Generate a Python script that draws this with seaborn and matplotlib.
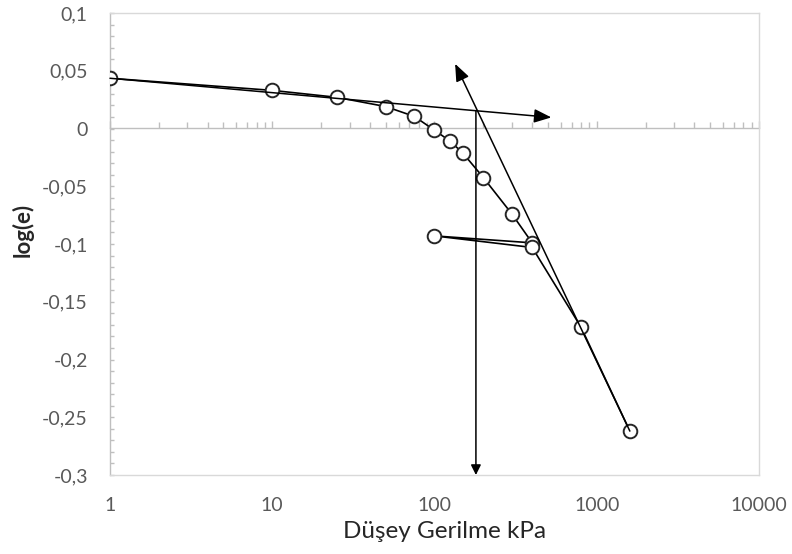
import numpy as np
import pandas as pd
import matplotlib
matplotlib.use("Agg")
import matplotlib.pyplot as plt
import matplotlib.ticker as mticker
import seaborn as sns

# Oedometer test: vertical stress (kPa) and log of void ratio, in loading order
stress = [1, 10, 25, 50, 75, 100, 125, 150, 200, 300, 400, 100, 400, 800, 1600]
log_e = [0.0435, 0.033, 0.027, 0.019, 0.0105, -0.0015, -0.011, -0.0215,
         -0.0425, -0.074, -0.099, -0.093, -0.103, -0.172, -0.262]

# Casagrande construction lines
initial_line_x = [1, 525]
initial_line_y = [0.0435, 0.0096]
virgin_line_x = [1600, 134]
virgin_line_y = [-0.262, 0.056]
pc_line_x = [180, 180]
pc_line_y = [0.0154, -0.3]

x_ticks = [1, 10, 100, 1000, 10000]
x_tick_labels = ["1", "10", "100", "1000", "10000"]
y_ticks = [0.1, 0.05, 0, -0.05, -0.1, -0.15, -0.2, -0.25, -0.3]
y_tick_labels = ["0,1", "0,05", "0", "-0,05", "-0,1", "-0,15", "-0,2", "-0,25", "-0,3"]

sns.set_theme(style="white")
plt.rcParams["font.family"] = ["Lato", "DejaVu Sans"]

fig = plt.figure(figsize=(7.92, 5.54), dpi=100)
ax = fig.add_axes([110 / 792, 1 - 475 / 554, (759 - 110) / 792, (475 - 13) / 554])
ax.set_xscale("log")
ax.set_xlim(1, 10000)
ax.set_ylim(-0.3, 0.1)

df = pd.DataFrame({"stress": stress, "log_e": log_e})
sns.lineplot(data=df, x="stress", y="log_e", sort=False, estimator=None,
             color="black", lw=1.2, marker="o", markersize=9.8,
             markerfacecolor="white", markeredgecolor="#262626",
             markeredgewidth=1.4, ax=ax, zorder=3)

# construction arrows
big_head = "-|>,head_length=1.05,head_width=0.42"
small_head = "-|>,head_length=0.6,head_width=0.3"
for xs, ys, style in [(initial_line_x, initial_line_y, big_head),
                      (virgin_line_x, virgin_line_y, big_head),
                      (pc_line_x, pc_line_y, small_head)]:
    ax.annotate("", xy=(xs[1], ys[1]), xytext=(xs[0], ys[0]),
                arrowprops=dict(arrowstyle=style, color="black", lw=1.1,
                                shrinkA=0, shrinkB=0, mutation_scale=10),
                zorder=4, annotation_clip=False)

# frame
for side in ["top", "right", "bottom"]:
    ax.spines[side].set_color("#d9d9d9")
    ax.spines[side].set_linewidth(1.0)
ax.spines["left"].set_color("#bfbfbf")
ax.spines["left"].set_linewidth(1.0)

# y axis ticks and labels
ax.set_yticks(y_ticks, labels=y_tick_labels)
ax.yaxis.set_minor_locator(mticker.MultipleLocator(0.01))
ax.tick_params(axis="y", which="both", direction="in", length=3,
               color="#bfbfbf", width=1, left=True, labelsize=14,
               labelcolor="#595959", pad=16)

# x labels at the bottom of the frame, no tick marks
ax.set_xticks(x_ticks, labels=x_tick_labels)
ax.xaxis.set_minor_formatter(mticker.NullFormatter())
ax.tick_params(axis="x", which="both", length=0, labelsize=14,
               labelcolor="#595959", pad=16)

# horizontal axis line at log(e) = 0 with log ticks
ymin, ymax = ax.get_ylim()
zero_pos = (0 - ymin) / (ymax - ymin)
sec = ax.secondary_xaxis(zero_pos)
sec.xaxis.set_major_locator(mticker.LogLocator(base=10))
sec.xaxis.set_minor_locator(mticker.LogLocator(base=10, subs=np.arange(2, 10)))
sec.tick_params(which="both", labeltop=False, labelbottom=False,
                color="#bfbfbf", width=1, direction="out")
sec.tick_params(which="major", length=5)
sec.tick_params(which="minor", length=4.5)
for s in sec.spines.values():
    s.set_color("#bfbfbf")
    s.set_linewidth(1.0)

ax.set_ylabel("log(e)", fontsize=16, fontweight="bold", color="#262626")
ax.yaxis.set_label_coords(-0.117, 0.53)
ax.set_xlabel("Düşey Gerilme kPa", fontsize=17.5, color="#262626")
ax.xaxis.set_label_coords(0.515, -0.1)

fig.savefig("out.png", dpi=100)
